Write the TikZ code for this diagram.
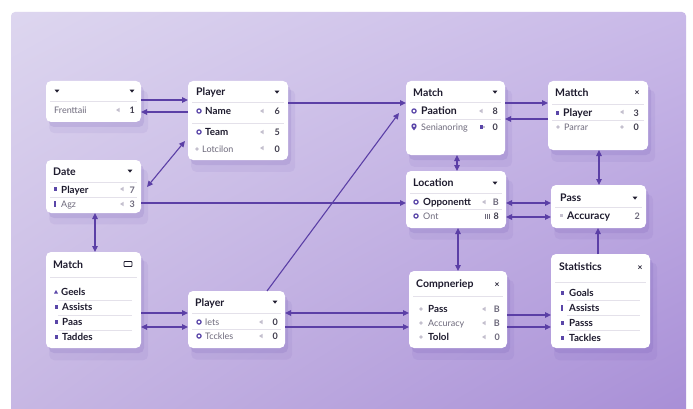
\documentclass[tikz,border=0pt]{standalone}
\usepackage{fontspec}
\setmainfont{Lato}
\usetikzlibrary{arrows.meta,shadows,shadings}
\definecolor{ink}{HTML}{1E1B2E}
\definecolor{graytxt}{HTML}{6E6A7C}
\definecolor{lin}{HTML}{5B3FA6}
\definecolor{icon}{HTML}{5A46A8}
\definecolor{ico2}{HTML}{C4C0CE}
\definecolor{divc}{HTML}{E4E1EA}
\definecolor{bgA}{HTML}{DDD6EF}
\definecolor{bgB}{HTML}{C9B9E8}
\definecolor{bgC}{HTML}{C6B6E3}
\definecolor{bgD}{HTML}{A78DD6}
\tikzset{
  box/.style={fill=white, rounded corners=5pt, inner sep=0pt, outer sep=0pt, anchor=north west,
    general shadow={shadow xshift=5pt, shadow yshift=-10pt, shadow scale=1.04, opacity=0.07, fill=lin},
    drop shadow={shadow xshift=3pt, shadow yshift=-5pt, opacity=0.12, fill=lin}},
  ttl/.style={font=\bfseries\fontsize{10.5}{12}\selectfont, text=ink, anchor=base west, inner sep=0pt},
  lb/.style={font=\bfseries\fontsize{9.8}{11}\selectfont, text=ink, anchor=base west, inner sep=0pt},
  lg/.style={font=\fontsize{9}{10}\selectfont, text=graytxt, anchor=base west, inner sep=0pt},
  num/.style={font=\bfseries\fontsize{9}{10}\selectfont, text=ink!85, anchor=base east, inner sep=0pt},
  numg/.style={num, text=graytxt},
  xx/.style={font=\bfseries\fontsize{8.5}{10}\selectfont, text=ink, anchor=base, inner sep=0pt},
  conn/.style={draw=lin, line width=1.1pt, -{Triangle[length=6pt,width=5.5pt]}},
  both/.style={draw=lin, line width=1.1pt, {Triangle[length=6pt,width=5.5pt]}-{Triangle[length=6pt,width=5.5pt]}},
  dvd/.style={draw=divc, line width=0.7pt},
}
\newcommand\dd[2]{\fill[ink] (#1-2.4,#2-1.3) -- (#1+2.4,#2-1.3) -- (#1,#2+1.6) -- cycle;}
\newcommand\lt[2]{\fill[ico2] (#1-2,#2) -- (#1+1.5,#2-2.2) -- (#1+1.5,#2+2.2) -- cycle;}
\newcommand\ring[2]{\draw[icon, line width=1.2pt] (#1,#2) circle (2.1);}
\newcommand\sq[2]{\fill[icon] (#1-1.5,#2-2.2) rectangle (#1+1.5,#2+2.2);}
\newcommand\dt[2]{\fill[ico2] (#1,#2) circle (1.9);}
\newcommand\dv[3]{\draw[dvd] (#1,#3) -- (#2,#3);}
\begin{document}
\begin{tikzpicture}[x=1pt,y=-1pt]
\useasboundingbox (0,0) rectangle (693,409);
\fill[white] (0,0) rectangle (693,409);
\shade[rounded corners=4pt, upper left=bgA, upper right=bgB, lower left=bgC, lower right=bgD] (11,12) rectangle (686,425);

% boxes
\node[box, minimum width=95pt, minimum height=41pt] (b1) at (46,81) {};
\node[box, minimum width=100pt, minimum height=79pt] (p1) at (188,81) {};
\node[box, minimum width=95pt, minimum height=53pt] (dtb) at (46,160) {};
\node[box, minimum width=95pt, minimum height=96pt] (ml) at (46,252) {};
\node[box, minimum width=97pt, minimum height=57pt] (pb) at (188,291) {};
\node[box, minimum width=99pt, minimum height=74pt] (mm) at (406,81) {};
\node[box, minimum width=100pt, minimum height=69pt] (mr) at (548,81) {};
\node[box, minimum width=100pt, minimum height=57pt] (lo) at (406,171) {};
\node[box, minimum width=95pt, minimum height=43pt] (ps) at (551,185) {};
\node[box, minimum width=98pt, minimum height=77pt] (cp) at (409,271) {};
\node[box, minimum width=99pt, minimum height=94pt] (st) at (551,254) {};

% box 1
\dd{57}{91} \dd{132}{91}
\dv{50}{137}{101}
\node[lg] (b1a) at (54,113.5) {Frenttaii};
\lt{118}{110}
\node[num] (b1n) at (135,113.5) {1};

% player top
\node[ttl] (p1t) at (196,96) {Player};
\dd{277}{92}
\dv{192}{284}{102}
\ring{199}{111} \node[lb] (p1a) at (205,114.5) {Name}; \lt{262}{111} \node[num] (p1an) at (280,114.5) {6};
\dv{192}{284}{123}
\ring{199}{132} \node[lb] (p1b) at (205,135.5) {Team}; \lt{262}{132} \node[num] (p1bn) at (280,135.5) {5};
\dt{197}{149} \node[lg] (p1c) at (202,152.5) {Lotcilon}; \lt{262}{148} \node[num] (p1cn) at (280,152) {0};

% date
\node[ttl] (dtt) at (53,175.5) {Date};
\dd{130}{171}
\dv{50}{137}{182}
\sq{55}{189} \node[lb] (dta) at (61,193) {Player}; \lt{122}{189} \node[numg] (dtan) at (135,193) {7};
\dv{50}{137}{197}
\fill[icon] (54.2,201) rectangle (55.8,207); \node[lg] (dtb2) at (61,207.5) {Agz}; \lt{122}{204} \node[numg] (dtbn) at (135,207.5) {3};

% match left
\node[ttl] (mlt) at (53,268) {Match};
\draw[ink, line width=0.9pt, rounded corners=0.8pt] (124,261.5) rectangle (132,266.5);
\dv{50}{137}{277}
\fill[icon] (54,293.5) -- (58,293.5) -- (56,290) -- cycle;
\node[lb] (mla) at (61,295.5) {Geels};
\dv{58}{132}{300}
\sq{56}{307} \node[lb] (mlb) at (62,310.5) {Assists};
\dv{58}{132}{315}
\sq{56}{322} \node[lb] (mlc) at (62,325.5) {Paas};
\dv{58}{132}{330}
\sq{56}{337} \node[lb] (mld) at (62,340.5) {Taddes};

% player bottom
\node[ttl] (pbt) at (195,306) {Player};
\dd{275}{302}
\dv{192}{281}{313}
\ring{199}{322} \node[lg] (pba) at (205,325.5) {lets}; \lt{261}{322} \node[num] (pban) at (278,325.5) {0};
\dv{192}{281}{329}
\ring{199}{336} \node[lg] (pbb) at (205,339.5) {Tcckles}; \lt{261}{336} \node[num] (pbbn) at (278,339.5) {0};

% match middle
\node[ttl] (mmt) at (413,96.5) {Match};
\dd{495}{92}
\dv{410}{501}{102}
\ring{414}{111} \node[lb, font=\bfseries\fontsize{10.5}{12}\selectfont] (mma) at (421,114.5) {Paation}; \lt{481}{111} \node[num] (mman) at (498,114.5) {8};
\dv{410}{501}{119}
\fill[icon] (414,126) circle (2.7); \fill[icon] (411.7,127.3) -- (416.3,127.3) -- (414,130.5) -- cycle; \fill[white] (414,126) circle (1.1);
\node[lg] (mmb) at (421,130.5) {Senianoring};
\fill[icon] (480,125) rectangle (483,129.5); \fill[ico2] (483,126) rectangle (484.5,128.5);
\node[num] (mmbn) at (498,130.5) {0};

% match right
\node[ttl] (mrt) at (555,97) {Mattch};
\node[xx] (mrx) at (637,96) {×};
\dv{552}{644}{104}
\sq{557}{113} \node[lb, font=\bfseries\fontsize{10.5}{12}\selectfont] (mra) at (563,116.5) {Player}; \lt{622}{112} \node[num] (mran) at (639,116.5) {3};
\dv{552}{644}{120}
\dt{558}{127} \node[lg] (mrb) at (564,130.5) {Parrar}; \dt{622}{127} \node[num] (mrbn) at (639,130.5) {0};

% location
\node[ttl] (lot) at (413,186.5) {Location};
\dd{495}{183}
\dv{410}{502}{193}
\ring{416}{202} \node[lb] (loa) at (423,205.5) {Opponentt}; \lt{484}{202} \node[numg] (loan) at (499,205.5) {B};
\dv{410}{502}{209}
\ring{416}{216} \node[lg] (lob) at (423,219.5) {Ont};
\draw[graytxt, line width=0.6pt] (485,213.5) -- (485,218.5) (487,213.5) -- (487,218.5) (489,213.5) -- (489,218.5);
\node[num] (lobn) at (499,219.5) {8};

% pass
\node[ttl] (pst) at (560,201.5) {Pass};
\dd{635}{198}
\dv{555}{642}{207}
\fill[ico2] (559.5,213.5) rectangle (562.5,216.5);
\node[lb, font=\bfseries\fontsize{10.5}{12}\selectfont] (psa) at (567,219) {Accuracy};
\node[numg] (psan) at (640,219) {2};

% compneriep
\node[ttl] (cpt) at (416,287.5) {Compneriep};
\node[xx] (cpx) at (497,287) {×};
\dv{413}{503}{296}
\dt{421}{309} \node[lb] (cpa) at (428,312.5) {Pass}; \lt{484}{309} \node[numg] (cpan) at (500,312.5) {B};
\dt{421}{323} \node[lg] (cpb) at (428,326.5) {Accuracy}; \lt{484}{323} \node[numg] (cpbn) at (500,326.5) {B};
\dt{421}{337} \node[lb] (cpc) at (428,340.5) {Tolol}; \lt{484}{337} \node[numg] (cpcn) at (500,340.5) {0};

% statistics
\node[ttl] (stt) at (559,270.5) {Statistics};
\node[xx] (stx) at (640,270) {×};
\dv{555}{646}{282}
\sq{562}{293} \node[lb] (sta) at (569,296.5) {Goals};
\dv{567}{640}{300}
\fill[icon] (561.2,305) rectangle (562.8,311); \node[lb] (stb) at (569,311.5) {Assists};
\dv{567}{640}{315}
\sq{562}{323} \node[lb] (stc) at (569,326.5) {Passs};
\dv{567}{640}{330}
\sq{562}{338} \node[lb] (std) at (569,341.5) {Tackles};

% connectors
\coordinate (d1) at (147,187);
\coordinate (d2) at (185,141);
\coordinate (m1) at (399,113);
\draw[conn] (b1.east |- 0,100) -- (p1.west |- 0,100);
\draw[conn] (p1.west |- 0,112) -- (b1.east |- 0,112);
\draw[both] (d1) -- (d2);
\draw[both] (dtb.south -| 95,0) -- (ml.north -| 95,0);
\draw[conn] (dtb.east |- 0,203) -- (lo.west |- 0,203);
\draw[conn] (p1.east |- 0,103) -- (mm.west |- 0,103);
\draw[conn] (pb.north -| 267,0) -- (m1);
\draw[conn] (ml.east |- 0,313) -- (pb.west |- 0,313);
\draw[both] (ml.east |- 0,327) -- (pb.west |- 0,327);
\draw[both] (pb.east |- 0,313) -- (cp.west |- 0,313);
\draw[conn] (pb.east |- 0,327) -- (cp.west |- 0,327);
\draw[conn] (mm.east |- 0,103) -- (mr.west |- 0,103);
\draw[conn] (mr.west |- 0,119) -- (mm.east |- 0,119);
\draw[both] (mm.south -| 457,0) -- (lo.north -| 457,0);
\draw[both] (lo.east |- 0,203) -- (ps.west |- 0,203);
\draw[both] (lo.east |- 0,217) -- (ps.west |- 0,217);
\draw[both] (mr.south -| 599,0) -- (ps.north -| 599,0);
\draw[both] (lo.south -| 458,0) -- (cp.north -| 458,0);
\draw[conn] (st.north -| 598,0) -- (ps.south -| 598,0);
\draw[conn] (cp.east |- 0,315) -- (st.west |- 0,315);
\draw[conn] (cp.east |- 0,327) -- (st.west |- 0,327);
\end{tikzpicture}
\end{document}
